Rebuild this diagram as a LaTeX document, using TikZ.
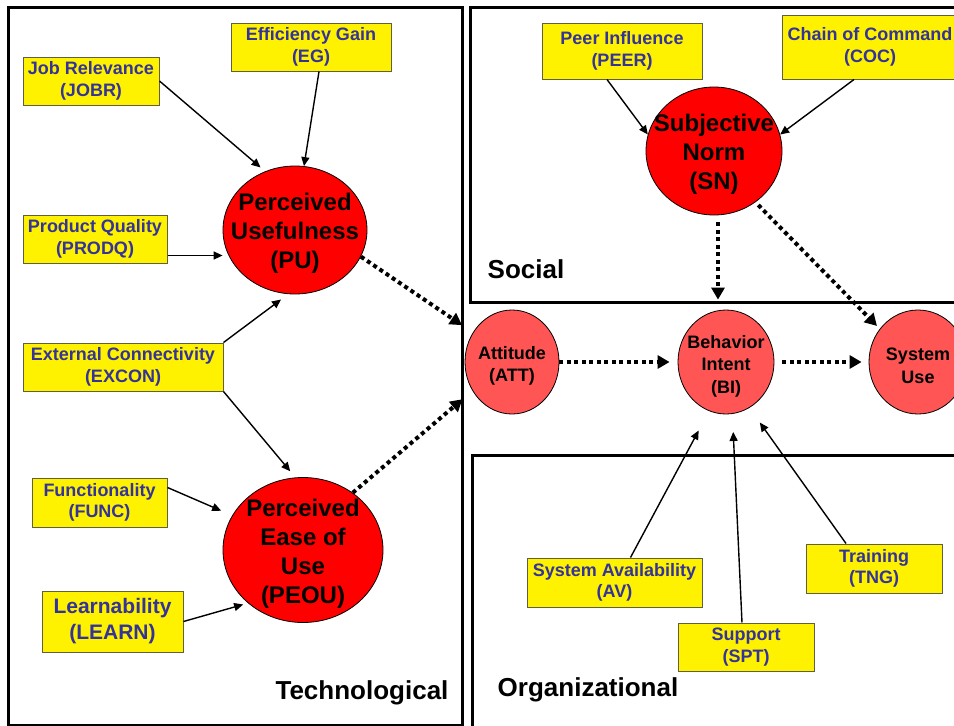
\documentclass[tikz,border=0pt]{standalone}
\usepackage{fontspec}
\setmainfont{Liberation Sans}
\usetikzlibrary{shapes.geometric,arrows.meta,positioning}
\definecolor{navy}{RGB}{51,51,153}
\definecolor{lightred}{RGB}{255,85,85}
\definecolor{boxline}{RGB}{96,96,64}

\begin{document}
\begin{tikzpicture}[x=1pt,y=-1pt,on grid,
  factor/.style={draw=boxline,line width=1pt,fill=yellow,text=navy,align=center,inner sep=0pt,
    font=\fontsize{18}{21.5}\selectfont\bfseries},
  bigtext/.style={align=center,yshift=-3.5pt,font=\fontsize{24}{29}\selectfont\bfseries},
  midtext/.style={align=center,yshift=-4pt,font=\fontsize{18}{22.5}\selectfont\bfseries},
  construct/.style={ellipse,draw,line width=0.8pt,fill=red,inner sep=0pt},
  outcome/.style={construct,fill=lightred,minimum width=96pt,minimum height=104pt},
  area/.style={draw,line width=3pt},
  region/.style={font=\fontsize{26}{30}\selectfont\bfseries},
  link/.style={-{Triangle[length=9pt,width=8pt]},line width=1.4pt},
  effect/.style={-{Triangle[length=12pt,width=13pt]},line width=4pt,dash pattern=on 4pt off 3.5pt}]
\useasboundingbox (0,0) rectangle (954,726);
\clip (0,0) rectangle (954,726);

\draw[area] (8,7) rectangle (462,725);
\draw[area] (470,7) rectangle (960,302);
\draw[area] (472,455) rectangle (960,730);
\node[region] (tech) at (362,693) {Technological};
\node[region] (soc) at (526,269) {Social};
\node[region] (org) at (588,690) {Organizational};

\node[construct,minimum width=144pt,minimum height=128pt,
  label={[bigtext]center:Perceived\\Usefulness\\(PU)}] (PU) at (295,230) {};
\node[construct,minimum width=160pt,minimum height=145pt,
  label={[bigtext]center:Perceived\\Ease of\\Use\\(PEOU)}] (PEOU) at (303,550) {};
\node[construct,minimum width=136pt,minimum height=128pt,
  label={[bigtext]center:Subjective\\Norm\\(SN)}] (SN) at (714,151) {};
\node[outcome,minimum width=94pt,label={[midtext]center:Attitude\\(ATT)}] (ATT) at (512,362) {};
\node[outcome,label={[midtext]center:Behavior\\Intent\\(BI)}] (BI) [right=214pt of ATT] {};
\node[outcome,minimum width=98pt,label={[midtext]center:System\\Use}] (SU) [right=192pt of BI] {};

\node[factor,minimum width=160pt,minimum height=48pt] (EG) at (311,47) {Efficiency Gain\\(EG)};
\node[factor,minimum width=136pt,minimum height=48pt] (JOBR) at (91,81) {Job Relevance\\(JOBR)};
\node[factor,minimum width=144pt,minimum height=48pt] (PRODQ) at (95,239) {Product Quality\\(PRODQ)};
\node[factor,minimum width=200pt,minimum height=48pt] (EXCON) at (123,367) {External Connectivity\\(EXCON)};
\node[factor,minimum width=135pt,minimum height=49pt] (FUNC) at (99.5,502.5) {Functionality\\(FUNC)};
\node[factor,minimum width=141pt,minimum height=61pt,font=\fontsize{21}{26}\selectfont\bfseries]
  (LEARN) at (112.5,621.5) {Learnability\\(LEARN)};
\node[factor,minimum width=160pt,minimum height=56pt] (PEER) at (622,51) {Peer Influence\\(PEER)};
\node[factor,minimum width=176pt,minimum height=64pt] (COC) at (870,47) {Chain of Command\\(COC)};
\node[factor,minimum width=175pt,minimum height=49pt] (AV) at (614.5,582.5) {System Availability\\(AV)};
\node[factor,minimum width=136pt,minimum height=48pt] (SPT) at (746,647) {Support\\(SPT)};
\node[factor,minimum width=136pt,minimum height=49pt] (TNG) at (874,568.5) {Training\\(TNG)};

\path[link]
  (JOBR.east) edge[shorten >=6pt] (PU.117)
  ([xshift=8pt]EG.south) edge (PU.82)
  ([yshift=8pt]PRODQ.south east) edge ([yshift=8pt]PRODQ.south east -| PU.west)
  (EXCON.north east) edge[shorten >=9pt] (PU.264)
  (EXCON.south east) edge[shorten >=8pt] (PEOU.96)
  ([yshift=-10pt]FUNC.north east) edge[shorten >=12pt] (PEOU.154)
  (LEARN.east) edge[shorten >=5pt] (PEOU.224)
  ([xshift=-15pt]PEER.south) edge (SN.166)
  ([xshift=-16pt]COC.south) edge (SN.14)
  ([xshift=16pt]AV.north) edge[shorten >=22pt] (BI.251)
  ([xshift=-4pt]SPT.north) edge[shorten >=18pt] (BI.277)
  ([xshift=-28pt]TNG.north) edge[shorten >=18pt] (BI.297);
\path[effect]
  (PU.-22) edge[shorten >=13pt] (ATT.143)
  (PEOU.49) edge[shorten >=13pt] (ATT.216)
  ([xshift=4pt]SN.south) edge[shorten <=7pt,shorten >=10pt] ([xshift=4pt]SN.south |- BI.north)
  (SN.-51) edge[shorten <=4pt,shorten >=4pt] (SU.139)
  (ATT) edge[shorten >=8pt] (BI)
  (BI) edge[shorten <=8pt,shorten >=7pt] (SU);
\end{tikzpicture}
\end{document}
